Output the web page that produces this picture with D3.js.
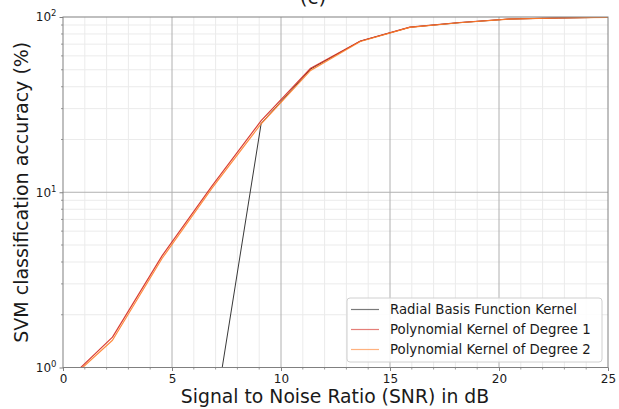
<!DOCTYPE html>
<html>
<head>
<meta charset="utf-8">
<script src="https://cdn.jsdelivr.net/npm/d3@7/dist/d3.min.js"></script>
<style>
  html, body { margin: 0; padding: 0; background: #fff; }
  svg { display: block; font-family: "DejaVu Sans", sans-serif; }
</style>
</head>
<body>
<svg id="chart" width="619" height="409"></svg>
<script>
// SNR sample points (dB)
const snr = [0, 2.27, 4.55, 6.82, 9.09, 11.36, 13.64, 15.91, 18.18, 20.45, 22.73, 25];
// Classification accuracy (%) per kernel
const rbf   = [0.40, 0.40, 0.40, 0.42, 24.7, 50.5, 72.8, 87.4, 92.8, 97.3, 98.7, 99.6];
const poly1 = [0.80, 1.49, 4.35, 10.8, 25.6, 51.0, 73.0, 87.5, 93.0, 97.4, 98.8, 99.7];
const poly2 = [0.79, 1.43, 4.20, 10.5, 24.6, 49.6, 72.5, 87.2, 92.7, 97.2, 98.7, 99.6];

const seriesNames = ["Radial Basis Function Kernel", "Polynomial Kernel of Degree 1", "Polynomial Kernel of Degree 2"];
const seriesColors = ["#222222", "#d42a20", "#ff7f2a"];
const xTicks = [0, 5, 10, 15, 20, 25];
const yTicks = [1, 10, 100];
const yTickExp = ["0", "1", "2"];

const svg = d3.select("#chart");
const pL = 63, pR = 608, pT = 17, pB = 367.5;

const x = d3.scaleLinear().domain([0, 25]).range([pL, pR]);
const y = d3.scaleLog().domain([1, 100]).range([pB, pT]);

// minor grid
const xMinor = d3.range(1, 25).filter(v => v % 5 !== 0);
const yMinor = [];
[1, 10].forEach(d => { for (let k = 2; k <= 9; k++) yMinor.push(d * k); });

const grid = svg.append("g");
grid.selectAll(".xm").data(xMinor).join("line")
  .attr("x1", d => x(d)).attr("x2", d => x(d)).attr("y1", pT).attr("y2", pB)
  .attr("stroke", "#ebebeb").attr("stroke-width", 1);
grid.selectAll(".ym").data(yMinor).join("line")
  .attr("y1", d => y(d)).attr("y2", d => y(d)).attr("x1", pL).attr("x2", pR)
  .attr("stroke", "#ebebeb").attr("stroke-width", 1);
// major grid
grid.selectAll(".xM").data([5, 10, 15, 20]).join("line")
  .attr("x1", d => x(d)).attr("x2", d => x(d)).attr("y1", pT).attr("y2", pB)
  .attr("stroke", "#b0b0b0").attr("stroke-width", 1);
grid.selectAll(".yM").data([10]).join("line")
  .attr("y1", d => y(d)).attr("y2", d => y(d)).attr("x1", pL).attr("x2", pR)
  .attr("stroke", "#b0b0b0").attr("stroke-width", 1);

// clip for data lines
svg.append("defs").append("clipPath").attr("id", "plotclip")
  .append("rect").attr("x", pL).attr("y", pT).attr("width", pR - pL).attr("height", pB - pT);

const line = d3.line().x((d, i) => x(snr[i])).y(d => y(d));
const lines = svg.append("g").attr("clip-path", "url(#plotclip)");
[rbf, poly1, poly2].forEach((s, i) => {
  lines.append("path").datum(s)
    .attr("d", line)
    .attr("fill", "none")
    .attr("stroke", seriesColors[i])
    .attr("stroke-opacity", 0.9)
    .attr("stroke-width", i === 0 ? 1 : 1.2)
    .attr("stroke-linejoin", "round");
});

// axes
const xAxis = d3.axisBottom(x).tickValues(xTicks).tickSize(3.5).tickPadding(3).tickFormat(d3.format("d"));
const gx = svg.append("g").attr("transform", `translate(0,${pB})`).call(xAxis);
gx.select(".domain").remove();
gx.selectAll(".tick line").attr("stroke", "#808080");
gx.selectAll(".tick text").attr("font-size", 12).attr("fill", "#1a1a1a")
  .attr("font-family", "DejaVu Sans");
// minor x ticks
svg.append("g").selectAll("line").data(xMinor).join("line")
  .attr("x1", d => x(d)).attr("x2", d => x(d)).attr("y1", pB).attr("y2", pB + 2)
  .attr("stroke", "#808080").attr("stroke-width", 0.8);

const yAxis = d3.axisLeft(y).tickValues(yTicks).tickSize(3.5).tickPadding(3).tickFormat(() => "");
const gy = svg.append("g").attr("transform", `translate(${pL},0)`).call(yAxis);
gy.select(".domain").remove();
gy.selectAll(".tick line").attr("stroke", "#808080");
gy.selectAll(".tick text").each(function(d, i) {
  const t = d3.select(this).attr("font-size", 12).attr("fill", "#1a1a1a").attr("font-family", "DejaVu Sans");
  t.append("tspan").text("10");
  t.append("tspan").attr("font-size", 8.5).attr("dy", -5).text(yTickExp[i]);
});
// minor y ticks
svg.append("g").selectAll("line").data(yMinor).join("line")
  .attr("y1", d => y(d)).attr("y2", d => y(d)).attr("x1", pL).attr("x2", pL - 2)
  .attr("stroke", "#808080").attr("stroke-width", 0.8);

// frame
svg.append("rect").attr("x", pL).attr("y", pT).attr("width", pR - pL).attr("height", pB - pT)
  .attr("fill", "none").attr("stroke", "#808080").attr("stroke-width", 1);

// labels
svg.append("text").attr("x", 335).attr("y", 403).attr("text-anchor", "middle")
  .attr("font-size", 18.8).attr("fill", "#1a1a1a").text("Signal to Noise Ratio (SNR) in dB");
svg.append("text").attr("transform", `translate(27.5,${(pT + pB) / 2}) rotate(-90)`)
  .attr("text-anchor", "middle").attr("font-size", 19).attr("fill", "#1a1a1a")
  .text("SVM classification accuracy (%)");
svg.append("text").attr("x", 313).attr("y", 4).attr("text-anchor", "middle")
  .attr("font-size", 20).attr("fill", "#1a1a1a").text("(c)");

// legend
const lg = svg.append("g");
lg.append("rect").attr("x", 347).attr("y", 298).attr("width", 255).attr("height", 64)
  .attr("rx", 3).attr("fill", "#fff").attr("fill-opacity", 0.85).attr("stroke", "#d0d0d0");
seriesNames.forEach((name, i) => {
  const yy = 309.5 + i * 20;
  lg.append("line").attr("x1", 351).attr("x2", 379).attr("y1", yy).attr("y2", yy)
    .attr("stroke", seriesColors[i]).attr("stroke-opacity", 0.6).attr("stroke-width", 1.2);
  lg.append("text").attr("x", 390).attr("y", yy + 4.7).attr("font-size", 13.3).attr("fill", "#1a1a1a").text(name);
});
</script>
</body>
</html>
